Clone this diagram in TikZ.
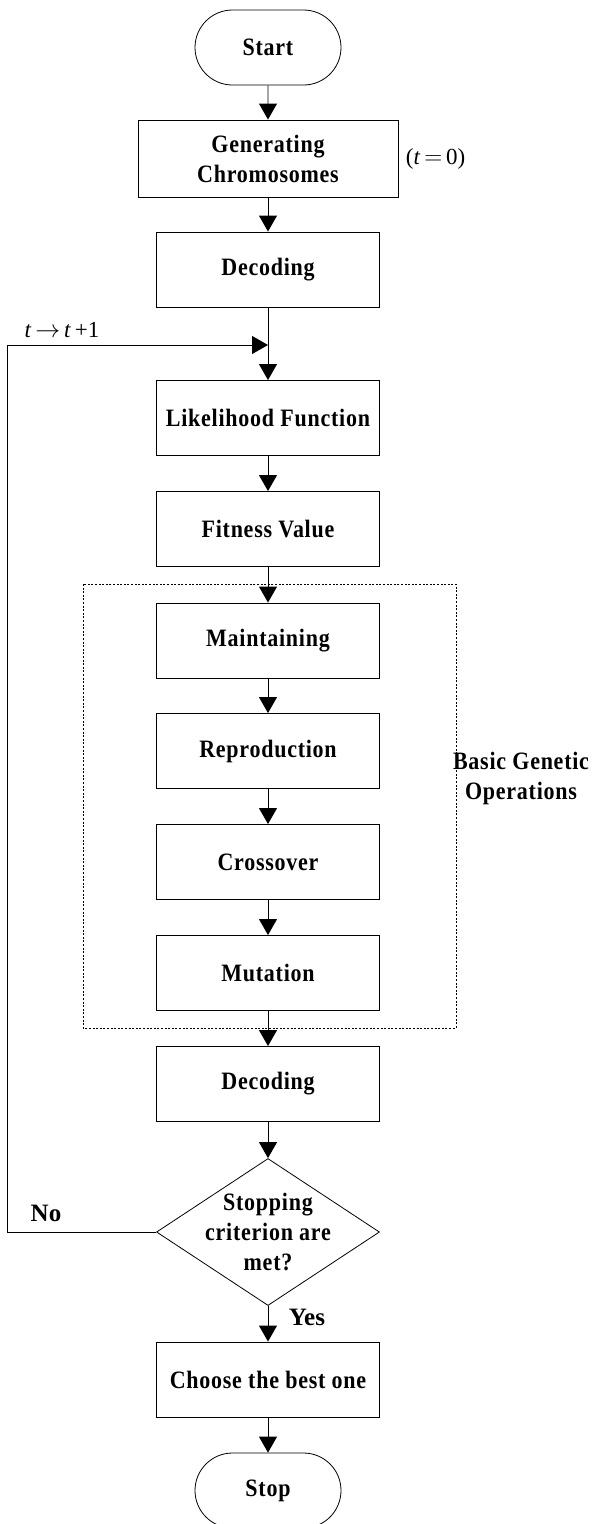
\documentclass[tikz,border=0pt]{standalone}
\usepackage{fontspec}
\setmainfont{Liberation Serif}[FakeStretch=0.88, LetterSpace=3]
\newfontfamily\plainserif{Liberation Serif}
\usetikzlibrary{arrows.meta,shapes.geometric,shapes.misc}

\begin{document}
\begin{tikzpicture}[x=1pt,y=-1pt,
  boxtext/.style={font=\fontsize{25}{30}\selectfont\bfseries, align=center},
  stepbox/.style={boxtext, draw, line width=0.9pt, minimum width=223pt,
    minimum height=75pt, inner sep=0pt},
  terminal/.style={boxtext, draw, rounded rectangle, line width=0.8pt,
    minimum width=146pt, minimum height=75pt, inner sep=0pt},
  decision/.style={draw, diamond, line width=0.8pt, minimum width=223pt,
    minimum height=147pt, inner sep=0pt},
  flow/.style={line width=0.9pt, -{Triangle[length=16pt,width=18pt]}},
  groupbox/.style={draw, line width=0.7pt, dash pattern=on 2pt off 1.6pt},
  note/.style={font=\plainserif\fontsize{25}{30}\selectfont\bfseries, align=center},
  mathnote/.style={font=\plainserif\fontsize{23}{28}\selectfont}
]
\useasboundingbox (0,0) rectangle (603,1524);

% main column
\node[terminal] (start) at (268,47.5) {Start};
\node[stepbox, minimum width=260pt, minimum height=77pt] (gen) at (268,158.5)
  {Generating\\Chromosomes};
\node[stepbox] (dec1) at (268,269.5) {Decoding};
\node[stepbox] (lik) at (268,418) {Likelihood Function};
\node[stepbox] (fit) at (268,529) {Fitness Value};
\node[stepbox] (maint) at (268,640.5) {Maintaining};
\node[stepbox] (repr) at (268,751) {Reproduction};
\node[stepbox] (cross) at (268,862) {Crossover};
\node[stepbox] (mut) at (268,973) {Mutation};
\node[stepbox] (dec2) at (268,1084) {Decoding};
\node[decision, label={[boxtext]center:Stopping\\criterion are\\met?}] (dia) at (268,1232) {};
\node[stepbox] (best) at (268,1379.5) {Choose the best one};
\node[terminal] (stop) at (268,1490.5) {Stop};

% group of basic genetic operations
\draw[groupbox] (83,584) rectangle (456,1028);
\node[boxtext] (ops) at (521,778) {Basic Genetic\\Operations};

% labels
\node[mathnote, anchor=west] (tzero) at ([xshift=4pt]gen.east) {(\textit{t}\,$=$\,0)};
\node[mathnote] (incr) at (62,330) {\textit{t}\,$\rightarrow$\,\textit{t}\,+1};
\node[note] (no) at (46,1213) {No};
\node[note] (yes) at (307,1317) {Yes};

% connectors
\coordinate (join) at (268,345);
\coordinate (back) at (7,0);
\draw[flow] (start) -- (gen);
\draw[flow] (gen) -- (dec1);
\draw[flow] (dec1) -- (lik);
\draw[flow] (lik) -- (fit);
\draw[flow] (fit) -- (maint);
\draw[flow] (maint) -- (repr);
\draw[flow] (repr) -- (cross);
\draw[flow] (cross) -- (mut);
\draw[flow] (mut) -- (dec2);
\draw[flow] (dec2) -- (dia);
\draw[flow] (dia) -- (best);
\draw[flow] (best) -- (stop);
\draw[flow] (dia.west) -- (dia.west -| back) -- (back |- join) -- (join);
\end{tikzpicture}
\end{document}
